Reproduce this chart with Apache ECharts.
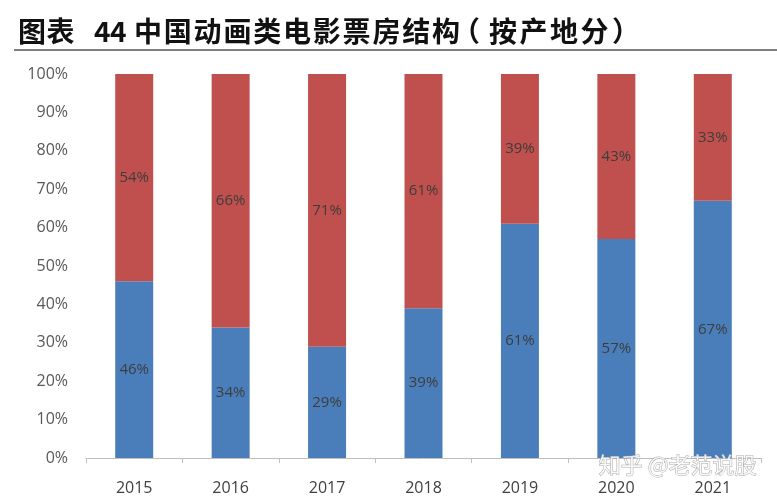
<!DOCTYPE html>
<html>
<head>
<meta charset="utf-8">
<script src="https://cdn.jsdelivr.net/npm/echarts@6/dist/echarts.min.js"></script>
<style>
  html, body { margin: 0; padding: 0; background: #fff; }
  #main { width: 777px; height: 500px; }
</style>
</head>
<body>
<div id="main"></div>
<script>
// 年份
var years = ['2015', '2016', '2017', '2018', '2019', '2020', '2021'];
// 国产动画占比（蓝）
var domestic = [46, 34, 29, 39, 61, 57, 67];
// 进口动画占比（红）
var imported = [54, 66, 71, 61, 39, 43, 33];
var yTicks = [0, 10, 20, 30, 40, 50, 60, 70, 80, 90, 100];

// 标题分段（原图字距较宽，逐字排）
var titleParts = [
  { text: '图表', x: 18, pitch: 28.5 },
  { text: '44', x: 94, pitch: 16 },
  { text: '中国动画类电影票房结构', x: 134, pitch: 29.8 },
  { text: '（', x: 452, pitch: 0 },
  { text: '按产地分', x: 489, pitch: 30.5 },
  { text: '）', x: 612, pitch: 0 }
];

var titleGraphics = [];
titleParts.forEach(function (p) {
  for (var i = 0; i < p.text.length; i++) {
    titleGraphics.push({
      type: 'text',
      x: p.x + i * p.pitch,
      y: 31,
      style: {
        text: p.text.charAt(i),
        font: 'bold 28px "Noto Sans CJK SC"',
        fill: '#111',
        textVerticalAlign: 'middle',
        verticalAlign: 'middle'
      }
    });
  }
});

var myChart = echarts.init(document.getElementById('main'));

var labelStyle = {
  show: true,
  position: 'inside',
  formatter: '{c}%',
  color: '#3d3d3d',
  fontSize: 15,
  fontFamily: 'Open Sans'
};

myChart.setOption({
  animation: false,
  backgroundColor: '#ffffff',
  graphic: titleGraphics.concat([
    {
      type: 'line',
      shape: { x1: 14, y1: 50, x2: 777, y2: 50 },
      style: { stroke: '#555', lineWidth: 1.5 }
    },
    {
      type: 'text',
      right: 20,
      bottom: 24,
      style: {
        text: '知乎 @老范说股',
        font: '22px "Noto Sans CJK SC"',
        fill: 'rgba(255,255,255,0.85)',
        stroke: 'rgba(150,150,150,0.8)',
        lineWidth: 1
      },
      z: 100
    }
  ]),
  grid: {
    left: 86,
    right: 16,
    top: 74,
    bottom: 42
  },
  xAxis: {
    type: 'category',
    data: years,
    axisLine: { lineStyle: { color: '#bfbfbf', width: 1 } },
    axisTick: { show: true, alignWithLabel: false, length: 5, lineStyle: { color: '#bfbfbf' } },
    axisLabel: {
      color: '#404040',
      fontSize: 16,
      fontFamily: 'Open Sans',
      margin: 22
    }
  },
  yAxis: {
    type: 'value',
    min: 0,
    max: 100,
    interval: 10,
    axisLine: { show: false },
    axisTick: { show: false },
    splitLine: { show: false },
    axisLabel: {
      color: '#595959',
      fontSize: 16,
      fontFamily: 'Open Sans',
      margin: 18,
      formatter: function (v) { return yTicks.indexOf(v) >= 0 ? v + '%' : ''; }
    }
  },
  series: [
    {
      name: '国产',
      type: 'bar',
      stack: 'total',
      data: domestic,
      barWidth: 38,
      itemStyle: { color: '#4a7ebb' },
      label: labelStyle
    },
    {
      name: '进口',
      type: 'bar',
      stack: 'total',
      data: imported,
      barWidth: 38,
      itemStyle: { color: '#c0504d' },
      label: labelStyle
    }
  ]
});
</script>
</body>
</html>
